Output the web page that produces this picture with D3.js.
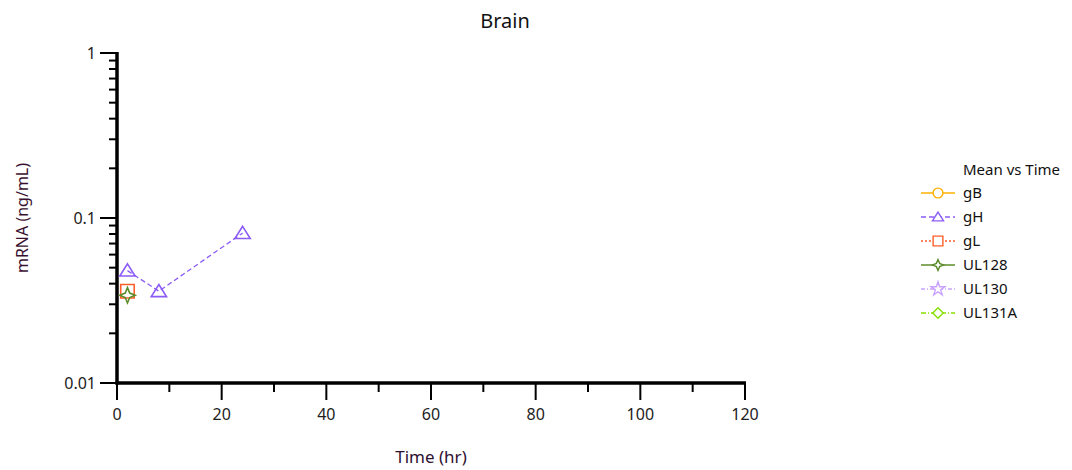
<!DOCTYPE html>
<html>
<head>
<meta charset="utf-8">
<script src="https://d3js.org/d3.v7.min.js"></script>
<style>
body { margin: 0; background: #fff; font-family: "Segoe UI", "Noto Sans", sans-serif; }
svg { display: block; }
</style>
</head>
<body>
<svg id="chart" width="1072" height="470"></svg>
<script>
// series shown in the legend
var seriesNames = ['gB', 'gH', 'gL', 'UL128', 'UL130', 'UL131A'];
var seriesColors = ['#ffb000', '#8c5cf6', '#ff5f2a', '#5b8c2a', '#c9a2ff', '#88e000'];
var seriesDash = [null, '5,3', '2,2', null, '4,2,1,2', '5,2,1,2'];
var seriesMarker = ['circle', 'triangle', 'square', 'star4', 'star', 'diamond'];

// mean values (time hr, mRNA ng/mL)
var gBTime = [], gBMean = [];
var gHTime = [2, 8, 24], gHMean = [0.048, 0.036, 0.081];
var gLTime = [2], gLMean = [0.036];
var UL128Time = [2], UL128Mean = [0.034];
var UL130Time = [], UL130Mean = [];
var UL131ATime = [], UL131AMean = [];

var xTicks = [0, 20, 40, 60, 80, 100, 120];
var yTicks = [0.01, 0.1, 1];

var times = [gBTime, gHTime, gLTime, UL128Time, UL130Time, UL131ATime];
var means = [gBMean, gHMean, gLMean, UL128Mean, UL130Mean, UL131AMean];

var svg = d3.select('#chart');
var margin = {left: 117, right: 327, top: 53, bottom: 87};
var width = 1072, height = 470;

var x = d3.scaleLinear().domain([0, 120]).range([margin.left, width - margin.right]);
var y = d3.scaleLog().domain([0.01, 1]).range([height - margin.bottom, margin.top]);

// title
svg.append('text').attr('x', 505).attr('y', 28).attr('text-anchor', 'middle')
  .style('font-size', '20px').attr('fill', '#111').text('Brain');

// minor y ticks
var yMinor = [];
for (var p = -2; p < 0; p++) {
  for (var k = 2; k <= 9; k++) yMinor.push(k * Math.pow(10, p));
}
svg.append('g').selectAll('line').data(yMinor).join('line')
  .attr('x1', x(0) - 8).attr('x2', x(0)).attr('y1', function(d) { return y(d); }).attr('y2', function(d) { return y(d); })
  .attr('stroke', '#000').attr('stroke-width', 2);
// major y ticks
svg.append('g').selectAll('line').data(yTicks).join('line')
  .attr('x1', x(0) - 17).attr('x2', x(0)).attr('y1', function(d) { return y(d); }).attr('y2', function(d) { return y(d); })
  .attr('stroke', '#000').attr('stroke-width', 2);
svg.append('g').selectAll('text').data(yTicks).join('text')
  .attr('x', x(0) - 21).attr('y', function(d) { return y(d); }).attr('dy', '0.35em')
  .attr('text-anchor', 'end').style('font-size', '16px').attr('fill', '#222')
  .text(function(d) { return d3.format('~g')(d); });

// minor x ticks
var xMinor = d3.range(10, 120, 20);
svg.append('g').selectAll('line').data(xMinor).join('line')
  .attr('x1', function(d) { return x(d); }).attr('x2', function(d) { return x(d); })
  .attr('y1', y(0.01)).attr('y2', y(0.01) + 9)
  .attr('stroke', '#000').attr('stroke-width', 2);
svg.append('g').selectAll('line').data(xTicks).join('line')
  .attr('x1', function(d) { return x(d); }).attr('x2', function(d) { return x(d); })
  .attr('y1', y(0.01)).attr('y2', y(0.01) + 17)
  .attr('stroke', '#000').attr('stroke-width', 2);
svg.append('g').selectAll('text').data(xTicks).join('text')
  .attr('x', function(d) { return x(d); }).attr('y', y(0.01) + 37)
  .attr('text-anchor', 'middle').style('font-size', '16px').attr('fill', '#222')
  .text(function(d) { return d; });

// axis lines
svg.append('line').attr('x1', x(0)).attr('x2', x(0)).attr('y1', y(1) - 1).attr('y2', y(0.01) + 1.5)
  .attr('stroke', '#000').attr('stroke-width', 3.5);
svg.append('line').attr('x1', x(0) - 1.5).attr('x2', x(120) + 1).attr('y1', y(0.01)).attr('y2', y(0.01))
  .attr('stroke', '#000').attr('stroke-width', 3.5);

// axis titles
svg.append('text').attr('x', (x(0) + x(120)) / 2).attr('y', 463).attr('text-anchor', 'middle')
  .style('font-size', '17px').attr('fill', '#2e1030').text('Time (hr)');
svg.append('text').attr('transform', 'translate(28,' + ((y(1) + y(0.01)) / 2) + ') rotate(-90)')
  .attr('text-anchor', 'middle').style('font-size', '16px').attr('fill', '#3a1030').text('mRNA (ng/mL)');

function markerPath(type, s) {
  if (type === 'triangle') return 'M0,' + (-s * 0.75) + 'L' + (s * 0.85) + ',' + (s * 0.6) + 'L' + (-s * 0.85) + ',' + (s * 0.6) + 'Z';
  if (type === 'square') return 'M' + (-s * 0.75) + ',' + (-s * 0.75) + 'h' + (s * 1.5) + 'v' + (s * 1.5) + 'h' + (-s * 1.5) + 'Z';
  if (type === 'diamond') return 'M0,' + (-s * 0.8) + 'L' + (s * 0.8) + ',0L0,' + (s * 0.8) + 'L' + (-s * 0.8) + ',0Z';
  if (type === 'star4') {
    var a = s * 0.85, b = s * 0.25;
    return 'M0,' + (-a) + 'L' + b + ',' + (-b) + 'L' + a + ',0L' + b + ',' + b + 'L0,' + a + 'L' + (-b) + ',' + b + 'L' + (-a) + ',0L' + (-b) + ',' + (-b) + 'Z';
  }
  if (type === 'star') return d3.symbol().type(d3.symbolStar).size(s * s * 1.4)();
  return d3.symbol().type(d3.symbolCircle).size(s * s * 1.8)();
}

// series lines and markers
var line = d3.line().x(function(d) { return x(d[0]); }).y(function(d) { return y(d[1]); });
seriesNames.forEach(function(name, i) {
  var pts = times[i].map(function(t, j) { return [t, means[i][j]]; });
  if (!pts.length) return;
  svg.append('path').datum(pts).attr('d', line).attr('fill', 'none')
    .attr('stroke', seriesColors[i]).attr('stroke-width', 1.3)
    .attr('stroke-dasharray', seriesDash[i]);
  svg.append('g').selectAll('path').data(pts).join('path')
    .attr('transform', function(d) { return 'translate(' + x(d[0]) + ',' + y(d[1]) + ')'; })
    .attr('d', markerPath(seriesMarker[i], 9))
    .attr('fill', seriesMarker[i] === 'star4' ? seriesColors[i] : 'none')
    .attr('fill-opacity', seriesMarker[i] === 'star4' ? 0 : 1)
    .attr('stroke', seriesColors[i]).attr('stroke-width', 1.6);
});

// legend
var legend = svg.append('g').attr('transform', 'translate(921,0)');
legend.append('text').attr('x', 42).attr('y', 175).style('font-size', '15px').attr('fill', '#111').text('Mean vs Time');
seriesNames.forEach(function(name, i) {
  var ly = 193 + i * 24;
  legend.append('line').attr('x1', 0).attr('x2', 34).attr('y1', ly).attr('y2', ly)
    .attr('stroke', seriesColors[i]).attr('stroke-width', 1.5).attr('stroke-dasharray', seriesDash[i]);
  legend.append('path').attr('transform', 'translate(17,' + ly + ')')
    .attr('d', markerPath(seriesMarker[i], 6.5))
    .attr('fill', '#fff').attr('stroke', seriesColors[i]).attr('stroke-width', 1.4);
  legend.append('text').attr('x', 42).attr('y', ly).attr('dy', '0.35em')
    .style('font-size', '15px').attr('fill', '#111').text(name);
});
</script>
</body>
</html>
